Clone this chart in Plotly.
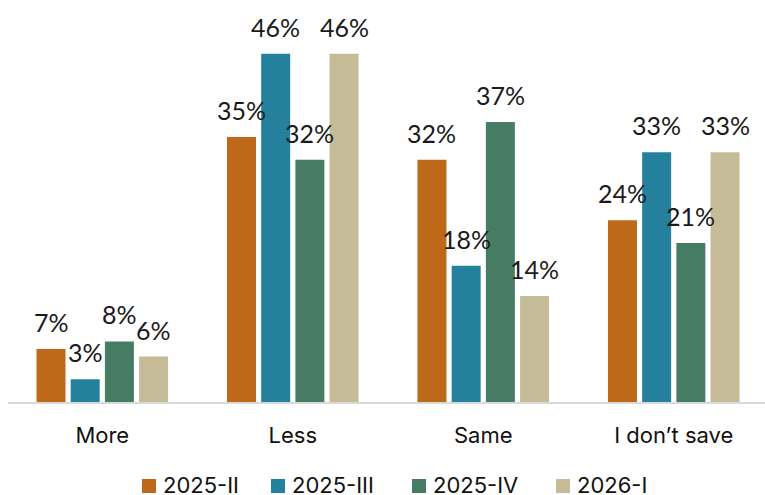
import plotly.graph_objects as go

# ---- data ----
categories = ["More", "Less", "Same", "I don’t save"]
series_names = ["2025-II", "2025-III", "2025-IV", "2026-I"]
v_2025_II = [7, 35, 32, 24]
v_2025_III = [3, 46, 18, 33]
v_2025_IV = [8, 32, 37, 21]
v_2026_I = [6, 46, 14, 33]
colors = ["#BE6819", "#24809C", "#467C64", "#C5BB96"]
values = [v_2025_II, v_2025_III, v_2025_IV, v_2026_I]

# ---- geometry ----
W, H = 765, 495
M_L, M_R, M_T, M_B = 8, 0, 0, 93
X_RANGE = [-0.495, 3.479]
Y_MAX = 53.1
BARGAP, GROUPGAP = 0.282, 0.152

plot_w = W - M_L - M_R
plot_h = H - M_T - M_B
cat_px = plot_w / (X_RANGE[1] - X_RANGE[0])
slot_px = cat_px * (1 - BARGAP) / len(series_names)

LABEL_FONT = "Lato, sans-serif"
AXIS_FONT = "Inter, sans-serif"

fig = go.Figure()
for i, (name, vals, col) in enumerate(zip(series_names, values, colors)):
    fig.add_trace(go.Bar(
        x=categories, y=vals, name=name,
        marker=dict(color=col, line=dict(width=0)),
        showlegend=False,
        hoverinfo="skip",
    ))
    # value labels above each bar
    shift = (i - (len(series_names) - 1) / 2) * slot_px
    for c, v in zip(categories, vals):
        fig.add_annotation(
            x=c, y=v, text=f"{v}%", showarrow=False,
            xanchor="center", yanchor="middle",
            xshift=shift, yshift=27,
            font=dict(family=LABEL_FONT, size=25, color="#1a1a1a"),
        )

# custom legend row: square swatch + label
legend_left_px = [142, 271, 412, 556]
sw = 14
sw_top_px, sw_bot_px = 479, 493


def px_to_paper_x(px):
    return (px - M_L) / plot_w


def px_to_paper_y(py):
    return (H - M_B - py) / plot_h


for name, col, lx in zip(series_names, colors, legend_left_px):
    fig.add_shape(
        type="rect", xref="paper", yref="paper",
        x0=px_to_paper_x(lx), x1=px_to_paper_x(lx + sw),
        y0=px_to_paper_y(sw_bot_px), y1=px_to_paper_y(sw_top_px),
        fillcolor=col, line=dict(width=0),
    )
    fig.add_annotation(
        xref="paper", yref="paper",
        x=px_to_paper_x(lx + sw + 5), y=px_to_paper_y((sw_top_px + sw_bot_px) / 2 - 1),
        text=name, showarrow=False, xanchor="left", yanchor="middle",
        font=dict(family=AXIS_FONT, size=22, color="#111111"),
    )

fig.update_layout(
    width=W, height=H,
    margin=dict(l=M_L, r=M_R, t=M_T, b=M_B),
    paper_bgcolor="white", plot_bgcolor="white",
    barmode="group", bargap=BARGAP, bargroupgap=GROUPGAP,
    showlegend=False,
    xaxis=dict(range=X_RANGE, showline=True, linecolor="#d9d9d9", linewidth=2,
               tickfont=dict(family=AXIS_FONT, size=22, color="#111111"),
               ticks="", showgrid=False, ticklabelstandoff=13),
    yaxis=dict(range=[0, Y_MAX], visible=False, showgrid=False, zeroline=False),
)

fig.write_html("out.html")
